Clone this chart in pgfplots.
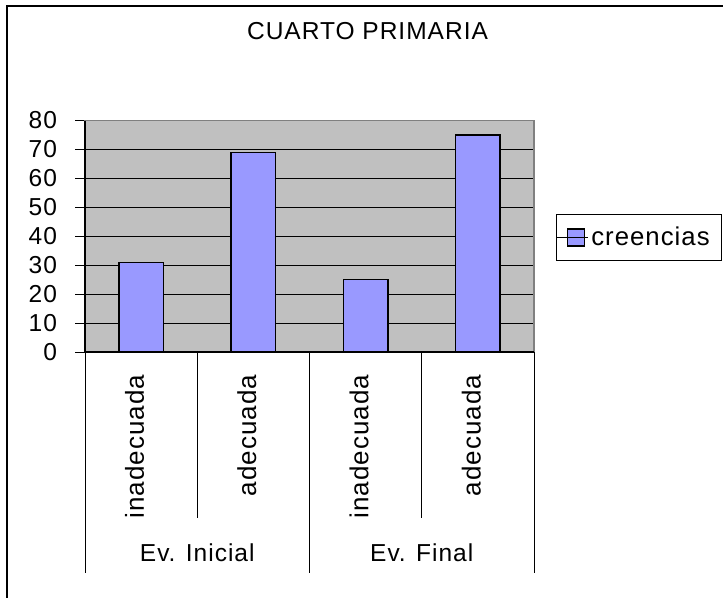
\documentclass[border=0pt]{standalone}
\usepackage{fontspec}
\setmainfont{Liberation Sans}[LetterSpace=4]
\usepackage{pgfplots}
\pgfplotsset{compat=1.18}
\definecolor{barfill}{HTML}{9999FF}
\definecolor{plotbg}{HTML}{C0C0C0}
\newcommand\F{\fontsize{18.4pt}{22pt}\selectfont}
\newcommand\FR{\fontsize{19.5pt}{23pt}\selectfont}
\newcommand\FL{\fontsize{19.3pt}{23pt}\selectfont}
\begin{document}
\begin{tikzpicture}[x=0.75pt,y=-0.75pt]
\useasboundingbox (0,0) rectangle (723,598);
\draw[line width=1.6pt] (7,610) -- (7,6) -- (730,6);
\node[font=\F] at (367.5,31) {CUARTO PRIMARIA};
\begin{axis}[
  at={(63.75pt,-264pt)}, anchor=south west,
  scale only axis, width=336.75pt, height=173.6pt,
  xmin=0.5, xmax=4.5, ymin=0, ymax=80,
  ytick={0,10,...,80},
  xtick={1,2,3,4},
  xticklabels={inadecuada,adecuada,inadecuada,adecuada},
  xtick style={draw=none},
  ytick style={black, line width=0.75pt},
  tick align=outside, major tick length=7.5pt,
  ytick pos=left,
  /pgf/number format/assume math mode=true,
  ticklabel style={font=\F},
  yticklabel style={xshift=-10pt},
  xticklabel style={yshift=-6pt, xshift=-5pt, rotate=90, anchor=east, font=\FR},
  ymajorgrids, grid style={black, line width=0.75pt},
  axis background/.style={fill=plotbg},
  axis line style={draw=gray, line width=1pt},
  clip=false,
  ybar, bar width=33.5pt,
  legend style={at={(1.049,0.596)}, anchor=north west, draw=black, line width=0.75pt,
    font=\FL, inner xsep=0pt, inner ysep=7.5pt},
  legend image code/.code={\draw[#1, line width=1pt] (7.5pt,-6.4pt) rectangle (20.25pt,6.4pt); \path (0pt,0pt) -- (23pt,0pt);},
]
\addplot[fill=barfill, draw=black, line width=1.1pt] coordinates {(1,31) (2,69) (3,25) (4,75)};
\addlegendentry{creencias\rule{7pt}{0pt}}
\draw[black, line width=1pt] (rel axis cs:0,1) -- (rel axis cs:0,0) -- (rel axis cs:1,0);
\draw[black, line width=0.75pt] (axis cs:0.5,0) -- ([yshift=-165.75pt]axis cs:0.5,0);
\draw[black, line width=0.75pt] (axis cs:1.5,0) -- ([yshift=-124.5pt]axis cs:1.5,0);
\draw[black, line width=0.75pt] (axis cs:2.5,0) -- ([yshift=-165.75pt]axis cs:2.5,0);
\draw[black, line width=0.75pt] (axis cs:3.5,0) -- ([yshift=-124.5pt]axis cs:3.5,0);
\draw[black, line width=0.75pt] (axis cs:4.5,0) -- ([yshift=-165.75pt]axis cs:4.5,0);
\node[font=\F] at ([yshift=-150.75pt]axis cs:1.5,0) {Ev. Inicial};
\node[font=\F] at ([yshift=-150.75pt]axis cs:3.5,0) {Ev. Final};
\end{axis}
\end{tikzpicture}
\end{document}
